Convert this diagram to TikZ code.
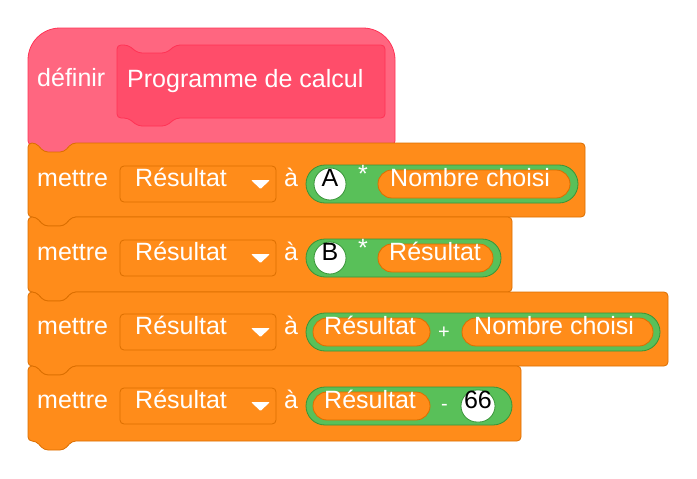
\documentclass[tikz,border=0pt]{standalone}
\usepackage{fontspec}
\setmainfont{Liberation Sans}
\definecolor{orng}{HTML}{FF8C1A}
\definecolor{orngd}{HTML}{DB6E00}
\definecolor{hat}{HTML}{FF6680}
\definecolor{hatd}{HTML}{FF3355}
\definecolor{hatin}{HTML}{FF4D6A}
\definecolor{grn}{HTML}{59C059}
\definecolor{grnd}{HTML}{389438}
\newcommand\stk[4]{%
\filldraw[blk,rounded corners=4] (#1,#4) -- (#1,#2) -- (#1+8,#2) -- (#1+16,#2+9) -- (#1+36,#2+9) -- (#1+44,#2) -- (#3,#2) -- (#3,#4) -- (#1+44,#4) -- (#1+36,#4+9) -- (#1+16,#4+9) -- (#1+8,#4) -- cycle;}
\newcommand\pill[5]{% name x0 x1 yc halfheight
\filldraw[rounded corners=#5] (#2,#4-#5) rectangle (#3,#4+#5);}
\begin{document}
\begin{tikzpicture}[x=1pt,y=-1pt,
 blk/.style={fill=orng,draw=orngd,line width=0.8},
 txt/.style={text=white,font=\fontsize{25}{25}\selectfont,inner sep=0,anchor=mid west},
 btxt/.style={text=black,font=\fontsize{25}{25}\selectfont,inner sep=0,anchor=mid},
 grp/.style={fill=grn,draw=grnd,line width=0.8},
 opl/.style={fill=orng,draw=orngd,line width=0.8},
 dd/.style={fill=orng,draw=orngd,line width=0.8,rounded corners=4}]
\useasboundingbox (0,0) rectangle (697,479);
% hat
\filldraw[fill=hat,draw=hatd,line width=0.8] (28,145) [rounded corners=32]-- (28,28) -- (395,28) [rounded corners=4]-- (395,145) -- (72,145) -- (64,154) -- (44,154) -- (36,145) -- cycle;
\filldraw[fill=hatin,draw=hatd,line width=0.8,rounded corners=4] (117,118) -- (117,45) -- (128,45) -- (138,53) -- (166,53) -- (176,45) -- (385,45) -- (385,118) -- (176,118) -- (166,126) -- (138,126) -- (128,118) -- cycle;
\node[txt] (def) at (37,84) {définir};
\node[txt] (prog) at (127,85) {Programme de calcul};
% stack blocks
\stk{28}{143}{585}{217}
\stk{28}{217}{512}{292}
\stk{28}{292}{668}{366}
\stk{28}{366}{521}{441}
\foreach \yc/\n in {184/1,258/2,332/3,406/4}{
 \node[txt] (m\n) at (37,\yc) {mettre};
 \filldraw[dd] (120,\yc-18) rectangle (276,\yc+18);
 \node[txt] (r\n) at (135,\yc) {Résultat};
 \fill[white,rounded corners=1] (251,\yc-4) -- (270,\yc-4) -- (260.5,\yc+5) -- cycle;
 \node[txt] (a\n) at (284,\yc) {à};
}
% block 1
\filldraw[grp,rounded corners=19] (306,165) rectangle (578,203);
\filldraw[fill=white,draw=grnd,line width=0.8] (330,184) circle (16);
\node[btxt] (A) at (330,184) {A};
\node[txt] (s1) at (358,180) {*};
\filldraw[opl,rounded corners=14] (378,170) rectangle (570,198);
\node[txt] (n1) at (390,184) {Nombre choisi};
% block 2
\filldraw[grp,rounded corners=19] (306,239) rectangle (501,277);
\filldraw[fill=white,draw=grnd,line width=0.8] (330,258) circle (16);
\node[btxt] (B) at (330,258) {B};
\node[txt] (s2) at (358,254) {*};
\filldraw[opl,rounded corners=14] (378,244) rectangle (493,272);
\node[txt] (n2) at (389,258) {Résultat};
% block 3
\filldraw[grp,rounded corners=19] (306,313) rectangle (660,351);
\filldraw[opl,rounded corners=14] (313,318) rectangle (430,346);
\node[txt] (n3) at (324,332) {Résultat};
\node[txt] (s3) at (438,336) {\fontsize{20}{20}\selectfont +};
\filldraw[opl,rounded corners=14] (462,318) rectangle (653,346);
\node[txt] (n3b) at (474,332) {Nombre choisi};
% block 4
\filldraw[grp,rounded corners=19] (306,387) rectangle (512,425);
\filldraw[opl,rounded corners=14] (313,392) rectangle (430,420);
\node[txt] (n4) at (324,406) {Résultat};
\node[txt] (s4) at (441,408) {\fontsize{20}{20}\selectfont -};
\filldraw[fill=white,draw=grnd,line width=0.8,rounded corners=16] (461,390) rectangle (495,422);
\node[btxt] (six) at (478,406) {66};
\end{tikzpicture}
\end{document}
